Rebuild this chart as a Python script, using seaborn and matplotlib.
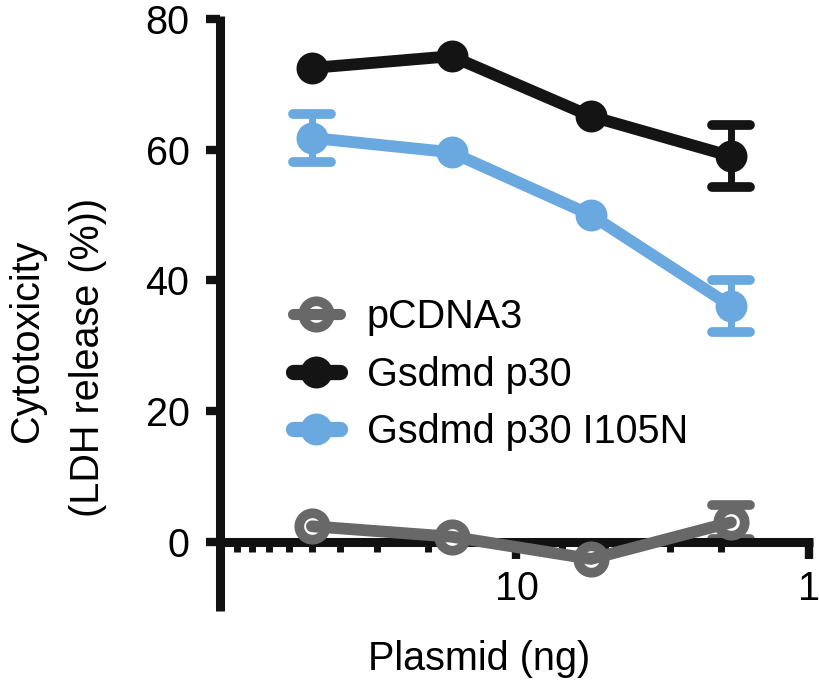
"""Cytotoxicity vs plasmid amount (LDH release), redrawn with seaborn."""
import matplotlib
matplotlib.use("Agg")
import matplotlib.pyplot as plt
import numpy as np
import pandas as pd
import seaborn as sns
from matplotlib.legend_handler import HandlerTuple
from matplotlib.lines import Line2D
from matplotlib.markers import MarkerStyle
from matplotlib.ticker import LogLocator, NullFormatter

# data
plasmid_ng = [50, 16.67, 5.56, 1.85]
series_names = ["pCDNA3", "Gsdmd p30", "Gsdmd p30 I105N"]
pcdna3_mean = [2.4, 0.8, -2.6, 3.0]
pcdna3_sd = [0.0, 0.0, 0.0, 2.6]
p30_mean = [72.5, 74.3, 65.1, 59.0]
p30_sd = [0.0, 0.0, 0.0, 4.7]
i105n_mean = [61.8, 59.6, 50.0, 36.1]
i105n_sd = [3.7, 0.0, 0.0, 4.0]

colors = {"pCDNA3": "#686868", "Gsdmd p30": "#141414", "Gsdmd p30 I105N": "#6aa8e0"}

rows = []
for name, means, sds in zip(series_names,
                            [pcdna3_mean, p30_mean, i105n_mean],
                            [pcdna3_sd, p30_sd, i105n_sd]):
    for x, m, s in zip(plasmid_ng, means, sds):
        rows.append({"plasmid": x, "ldh": m, "sd": s, "series": name})
df = pd.DataFrame(rows)

sns.set_theme(style="ticks")
plt.rcParams["font.family"] = ["Liberation Sans", "DejaVu Sans"]
plt.rcParams["text.color"] = "black"
plt.rcParams["axes.labelcolor"] = "black"
plt.rcParams["xtick.color"] = "#111111"
plt.rcParams["ytick.color"] = "#111111"
plt.rcParams["xtick.labelcolor"] = "black"
plt.rcParams["ytick.labelcolor"] = "black"

FS = 28.5
fig = plt.figure(figsize=(8.2, 6.93), dpi=100)
ax = fig.add_axes([0.2683, 0.1189, 0.7232, 0.8585])

lw = 8.5


def marker_kw(name):
    c = colors[name]
    if name == "pCDNA3":
        return dict(marker="o", markersize=19, markerfacecolor="white",
                    markeredgecolor=c, markeredgewidth=7)
    return dict(marker="o", markersize=23, markerfacecolor=c,
                markeredgecolor=c, markeredgewidth=0)


for name in series_names:
    sub = df[df["series"] == name]
    c = colors[name]
    err = sub[sub["sd"] > 0]
    _, caps, _ = ax.errorbar(err["plasmid"], err["ldh"], yerr=err["sd"], fmt="none",
                             ecolor=c, elinewidth=5, capsize=14, capthick=7, zorder=2)
    for cap in caps:
        cap.set_marker(MarkerStyle("_", capstyle="round"))
    if name == "pCDNA3":
        # open circles: the connecting line runs over the markers
        sns.lineplot(data=sub, x="plasmid", y="ldh", ax=ax, color=c, lw=0,
                     legend=False, zorder=3, errorbar=None, **marker_kw(name))
        sns.lineplot(data=sub, x="plasmid", y="ldh", ax=ax, color=c, lw=lw,
                     legend=False, zorder=4, errorbar=None)
    else:
        sns.lineplot(data=sub, x="plasmid", y="ldh", ax=ax, color=c, lw=lw,
                     legend=False, zorder=3, errorbar=None, **marker_kw(name))

ax.set_xscale("log")
ax.set_xlim(103, 0.97)
ax.set_ylim(-10.5, 80.5)
ax.set_yticks([0, 20, 40, 60, 80])
ax.set_xticks([10, 1])
ax.set_xticklabels(["10", "1"])
ax.xaxis.set_minor_locator(LogLocator(base=10, subs=np.arange(2, 10)))
ax.xaxis.set_minor_formatter(NullFormatter())

sns.despine(ax=ax)
ax.spines["bottom"].set_position(("data", 0))
for side in ["left", "bottom"]:
    ax.spines[side].set_linewidth(6.5)
    ax.spines[side].set_color("#111111")
    ax.spines[side].set_capstyle("butt")

ax.tick_params(axis="y", which="major", length=10, width=6, labelsize=FS, pad=12)
ax.tick_params(axis="x", which="major", length=12, width=6, labelsize=FS, pad=8)
ax.tick_params(axis="x", which="minor", length=7.5, width=5)
ax.grid(False)

ax.set_xlabel("Plasmid (ng)", fontsize=FS)
ax.xaxis.set_label_coords(0.437, -0.0486)
ax.set_ylabel("Cytotoxicity\n(LDH release (%))   ", fontsize=FS, linespacing=1.78)
ax.yaxis.set_label_coords(-0.19, 0.453)

# legend: marker and thick line overlaid (line on top for the open marker)
handles = []
for name in series_names:
    c = colors[name]
    mk = Line2D([0], [0], ls="none", **marker_kw(name))
    ln = Line2D([0], [0], color=c, lw=11 if name != "pCDNA3" else 8,
                solid_capstyle="round")
    handles.append((mk, ln) if name == "pCDNA3" else (ln, mk))
ax.legend(handles, series_names, loc="upper left", bbox_to_anchor=(0.1224, 0.525),
          frameon=False, fontsize=FS, handlelength=1.19, handletextpad=0.68,
          labelspacing=0.49, borderaxespad=0, borderpad=0,
          handler_map={tuple: HandlerTuple(ndivide=1, pad=0)})

fig.savefig("out.png", dpi=100)
